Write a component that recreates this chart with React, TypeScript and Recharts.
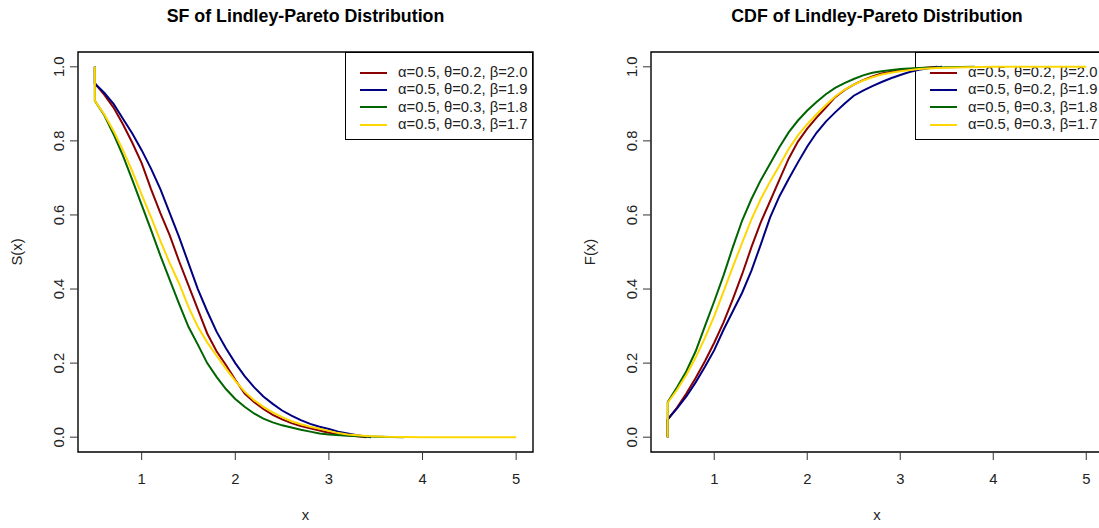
import { LineChart, Line, XAxis, YAxis, ReferenceArea, Legend, Label } from "recharts";

const FONT = '"Liberation Sans", Arial, sans-serif';

const xTicks = [1, 2, 3, 4, 5];
const yTicks = [0, 0.2, 0.4, 0.6, 0.8, 1.0];
const seriesLabels = [
  "α=0.5, θ=0.2, β=2.0",
  "α=0.5, θ=0.2, β=1.9",
  "α=0.5, θ=0.3, β=1.8",
  "α=0.5, θ=0.3, β=1.7",
];
const seriesColors = ["#8B0000", "#000080", "#006400", "#FFD700"];

// survival curves, [x, S(x)]
const sfRed = [
  [0.5, 1.0], [0.5, 0.955], [0.6, 0.925], [0.7, 0.89], [0.8, 0.845], [0.9, 0.795],
  [1.0, 0.74], [1.1, 0.67], [1.2, 0.605], [1.3, 0.545], [1.4, 0.475], [1.5, 0.41],
  [1.6, 0.345], [1.7, 0.28], [1.8, 0.232], [1.9, 0.195], [2.0, 0.155], [2.1, 0.118],
  [2.2, 0.095], [2.3, 0.076], [2.4, 0.06], [2.5, 0.048], [2.6, 0.038], [2.7, 0.03],
  [2.8, 0.024], [2.9, 0.018], [3.0, 0.012], [3.1, 0.008], [3.2, 0.005], [3.4, 0.0],
];
const sfBlue = [
  [0.5, 1.0], [0.5, 0.955], [0.6, 0.93], [0.7, 0.9], [0.8, 0.86], [0.9, 0.82],
  [1.0, 0.775], [1.1, 0.725], [1.2, 0.67], [1.3, 0.605], [1.4, 0.54], [1.5, 0.47],
  [1.6, 0.4], [1.7, 0.34], [1.8, 0.285], [1.9, 0.24], [2.0, 0.2], [2.1, 0.165],
  [2.2, 0.135], [2.3, 0.11], [2.4, 0.09], [2.5, 0.072], [2.6, 0.058], [2.7, 0.046],
  [2.8, 0.036], [2.9, 0.028], [3.0, 0.022], [3.1, 0.015], [3.2, 0.01], [3.3, 0.005],
  [3.45, 0.0],
];
const sfGreen = [
  [0.5, 1.0], [0.5, 0.908], [0.6, 0.87], [0.7, 0.818], [0.8, 0.76], [0.9, 0.695],
  [1.0, 0.627], [1.1, 0.56], [1.2, 0.49], [1.3, 0.425], [1.4, 0.36], [1.5, 0.298],
  [1.6, 0.25], [1.7, 0.2], [1.8, 0.163], [1.9, 0.13], [2.0, 0.103], [2.1, 0.082],
  [2.2, 0.064], [2.3, 0.05], [2.4, 0.04], [2.5, 0.032], [2.6, 0.026], [2.7, 0.02],
  [2.8, 0.015], [2.9, 0.01], [3.0, 0.007], [3.2, 0.004], [3.4, 0.002], [3.8, 0.0],
];
const sfGold = [
  [0.5, 1.0], [0.5, 0.908], [0.6, 0.872], [0.7, 0.827], [0.8, 0.775], [0.9, 0.718],
  [1.0, 0.655], [1.1, 0.594], [1.2, 0.53], [1.3, 0.47], [1.4, 0.415], [1.5, 0.352],
  [1.6, 0.298], [1.7, 0.256], [1.8, 0.22], [1.9, 0.185], [2.0, 0.152], [2.1, 0.123],
  [2.2, 0.1], [2.3, 0.082], [2.4, 0.067], [2.5, 0.054], [2.6, 0.043], [2.7, 0.035],
  [2.8, 0.028], [2.9, 0.023], [3.0, 0.017], [3.1, 0.011], [3.2, 0.007], [3.4, 0.003],
  [3.6, 0.001], [4.0, 0.0], [5.0, 0.0],
];

// distribution functions, [x, F(x)]
const cdfRed = [
  [0.5, 0.0], [0.5, 0.048], [0.6, 0.08], [0.7, 0.118], [0.8, 0.16], [0.9, 0.205],
  [1.0, 0.255], [1.1, 0.31], [1.2, 0.373], [1.3, 0.44], [1.4, 0.513], [1.5, 0.58],
  [1.6, 0.637], [1.7, 0.695], [1.8, 0.752], [1.9, 0.798], [2.0, 0.833], [2.1, 0.863],
  [2.2, 0.89], [2.3, 0.918], [2.4, 0.937], [2.5, 0.952], [2.6, 0.964], [2.7, 0.974],
  [2.8, 0.982], [2.9, 0.987], [3.0, 0.991], [3.2, 0.996], [3.4, 1.0],
];
const cdfBlue = [
  [0.5, 0.0], [0.5, 0.048], [0.6, 0.078], [0.7, 0.11], [0.8, 0.148], [0.9, 0.19],
  [1.0, 0.235], [1.1, 0.29], [1.2, 0.34], [1.3, 0.39], [1.4, 0.45], [1.5, 0.52],
  [1.6, 0.593], [1.7, 0.65], [1.8, 0.697], [1.9, 0.742], [2.0, 0.785], [2.1, 0.822],
  [2.2, 0.852], [2.3, 0.877], [2.4, 0.9], [2.5, 0.922], [2.6, 0.936], [2.7, 0.948],
  [2.8, 0.959], [2.9, 0.969], [3.0, 0.978], [3.1, 0.986], [3.2, 0.992], [3.3, 0.996],
  [3.45, 1.0],
];
const cdfGreen = [
  [0.5, 0.0], [0.5, 0.095], [0.6, 0.135], [0.7, 0.178], [0.8, 0.232], [0.9, 0.3],
  [1.0, 0.367], [1.1, 0.437], [1.2, 0.513], [1.3, 0.585], [1.4, 0.643], [1.5, 0.694],
  [1.6, 0.738], [1.7, 0.783], [1.8, 0.823], [1.9, 0.855], [2.0, 0.882], [2.1, 0.905],
  [2.2, 0.926], [2.3, 0.943], [2.4, 0.956], [2.5, 0.967], [2.6, 0.977], [2.7, 0.984],
  [2.8, 0.988], [3.0, 0.994], [3.2, 0.997], [3.5, 0.999], [3.8, 1.0],
];
const cdfGold = [
  [0.5, 0.0], [0.5, 0.093], [0.6, 0.128], [0.7, 0.168], [0.8, 0.215], [0.9, 0.268],
  [1.0, 0.327], [1.1, 0.393], [1.2, 0.46], [1.3, 0.525], [1.4, 0.588], [1.5, 0.643],
  [1.6, 0.69], [1.7, 0.733], [1.8, 0.778], [1.9, 0.815], [2.0, 0.845], [2.1, 0.872],
  [2.2, 0.897], [2.3, 0.92], [2.4, 0.938], [2.5, 0.952], [2.6, 0.963], [2.7, 0.972],
  [2.8, 0.979], [2.9, 0.984], [3.0, 0.988], [3.2, 0.994], [3.4, 0.997], [3.7, 0.999],
  [4.0, 1.0], [5.0, 1.0],
];

const toPoints = (arr: number[][]) => arr.map(([x, y]) => ({ x, y }));

const H = 528;
const TOP = 52;
const BOTTOM = 452;
const Y_AXIS_W = 40;
const X_AXIS_H = 30;

function Panel({ left, width, margin, title, yLabel, series }) {
  const plotLeft = margin.left + Y_AXIS_W;
  const plotRight = width - margin.right;

  const yTick = (p) => {
    const x = plotLeft - 14;
    return (
      <text
        x={x}
        y={p.y}
        transform={`rotate(-90 ${x} ${p.y})`}
        textAnchor="middle"
        fontSize={14.8}
        fontFamily={FONT}
        fill="#222"
      >
        {p.payload.value.toFixed(1)}
      </text>
    );
  };

  const xTick = (p) => (
    <text x={p.x} y={BOTTOM + 31.5} textAnchor="middle" fontSize={14.8} fontFamily={FONT} fill="#222">
      {p.payload.value}
    </text>
  );

  return (
    <div style={{ position: "absolute", left, top: 0, width, height: H }}>
      <div
        style={{
          position: "absolute",
          left: plotLeft,
          width: plotRight - plotLeft,
          top: 6,
          textAlign: "center",
          font: `bold 17.8px ${FONT}`,
          color: "#000",
        }}
      >
        {title}
      </div>
      <LineChart width={width} height={H} margin={{ ...margin, top: TOP, bottom: H - BOTTOM - X_AXIS_H }}>
        <XAxis
          type="number"
          dataKey="x"
          domain={[0.32, 5.18]}
          ticks={xTicks}
          allowDataOverflow
          axisLine={false}
          tickSize={8}
          tickLine={{ stroke: "#333" }}
          tick={xTick}
          height={X_AXIS_H}
          label={
            <Label
              content={() => (
                <text x={(plotLeft + plotRight) / 2} y={BOTTOM + 68} textAnchor="middle" fontSize={14.8} fontFamily={FONT} fill="#222">
                  x
                </text>
              )}
            />
          }
        />
        <YAxis
          type="number"
          domain={[-0.04, 1.04]}
          ticks={yTicks}
          allowDataOverflow
          axisLine={false}
          tickSize={8}
          tickLine={{ stroke: "#333" }}
          tick={yTick}
          width={Y_AXIS_W}
          label={
            <Label
              content={() => {
                const x = plotLeft - 56;
                const y = (TOP + BOTTOM) / 2;
                return (
                  <text x={x} y={y} transform={`rotate(-90 ${x} ${y})`} textAnchor="middle" fontSize={14.8} fontFamily={FONT} fill="#222">
                    {yLabel}
                  </text>
                );
              }}
            />
          }
        />
        <ReferenceArea x1={0.32} x2={5.18} y1={-0.04} y2={1.04} fill="none" fillOpacity={0} stroke="#000" strokeWidth={1.4} ifOverflow="visible" />
        <Legend
          layout="horizontal"
          align="center"
          verticalAlign="middle"
          wrapperStyle={{ left: plotRight - 188, top: TOP, width: 188, height: 88, zIndex: -1 }}
          content={() => (
            <div
              style={{
                position: "relative",
                width: 188,
                height: 88,
                boxSizing: "border-box",
                border: "1.5px solid #000",
                background: "#fff",
                font: `14.8px ${FONT}`,
                color: "#222",
              }}
            >
              {seriesLabels.map((lab, i) => (
                <div key={lab} style={{ position: "absolute", left: 0, top: 11 + i * 17.4, height: 17.4, width: 260 }}>
                  <div style={{ position: "absolute", left: 14, top: 7.7, width: 27, height: 2, background: seriesColors[i] }} />
                  <div style={{ position: "absolute", left: 52, top: 0, lineHeight: "17.4px", whiteSpace: "nowrap" }}>{lab}</div>
                </div>
              ))}
            </div>
          )}
        />
        {series.map((s, i) => (
          <Line
            key={i}
            data={toPoints(s)}
            dataKey="y"
            type="linear"
            stroke={seriesColors[i]}
            strokeWidth={2}
            dot={false}
            legendType="line"
            isAnimationActive={false}
          />
        ))}
      </LineChart>
    </div>
  );
}

export default function App() {
  return (
    <div
      style={{
        position: "fixed",
        left: 0,
        top: 0,
        width: 1099,
        height: H,
        overflow: "hidden",
        background: "#fff",
        isolation: "isolate",
      }}
    >
      <Panel
        left={0}
        width={549}
        margin={{ left: 38, right: 16 }}
        title="SF of Lindley-Pareto Distribution"
        yLabel="S(x)"
        series={[sfRed, sfBlue, sfGreen, sfGold]}
      />
      <Panel
        left={549}
        width={560}
        margin={{ left: 62, right: 6 }}
        title="CDF of Lindley-Pareto Distribution"
        yLabel="F(x)"
        series={[cdfRed, cdfBlue, cdfGreen, cdfGold]}
      />
    </div>
  );
}
